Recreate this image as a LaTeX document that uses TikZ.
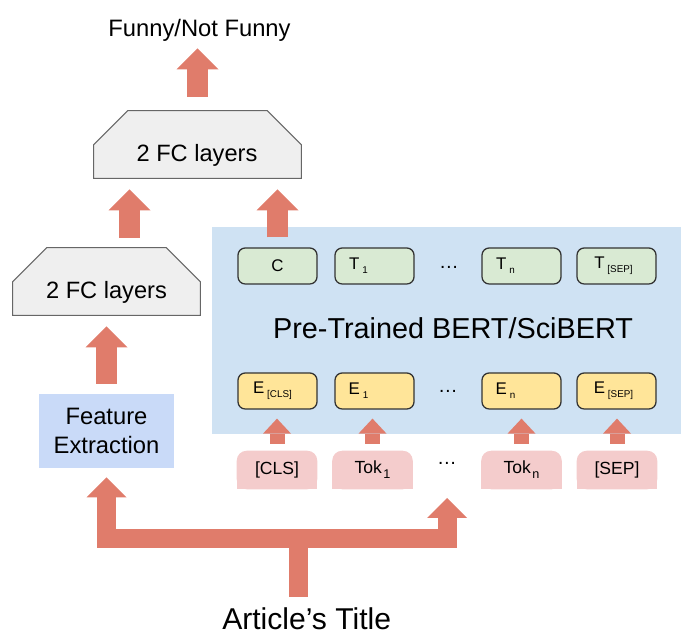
\documentclass[tikz,border=0pt]{standalone}
\usepackage{fontspec}
\setmainfont{Liberation Sans}
\usetikzlibrary{arrows.meta,backgrounds}
\definecolor{arrowred}{HTML}{E07C6B}
\definecolor{bertblue}{HTML}{CFE2F3}
\definecolor{featblue}{HTML}{C9DAF8}
\definecolor{outgreen}{HTML}{D9EAD3}
\definecolor{embyellow}{HTML}{FFE599}
\definecolor{tokpink}{HTML}{F4CCCC}
\definecolor{fcgray}{HTML}{EFEFEF}
\definecolor{fcline}{HTML}{666666}
\definecolor{boxline}{HTML}{333333}
\newcommand{\boxsub}[1]{\kern2pt\raisebox{-3pt}{\fontsize{7}{8}\selectfont #1}}
\newcommand{\toksub}[1]{\kern1pt\raisebox{-3.5pt}{\fontsize{9}{10}\selectfont #1}}
\tikzset{
  fclayer/.style={shape=rectangle, inner sep=0},
  fcshape/.style={draw=fcline, fill=fcgray, line width=0.7pt, line join=miter},
  fctext/.style={anchor=base, inner sep=0, font=\fontsize{16.8}{20}\selectfont},
  outtok/.style={shape=rectangle, draw=boxline, fill=outgreen, line width=0.9pt, rounded corners=0.18cm, inner sep=0, minimum width=1.975cm, minimum height=0.9cm, font=\fontsize{12}{14}\selectfont},
  embtok/.style={outtok, fill=embyellow},
  intok/.style={shape=rectangle, inner sep=0, minimum width=2cm, minimum height=0.95cm, font=\fontsize{12.5}{14}\selectfont},
  featbox/.style={shape=rectangle, fill=featblue, inner sep=0, minimum width=3.375cm, minimum height=1.85cm, align=center, font=\fontsize{16.9}{21}\selectfont},
  bertbg/.style={shape=rectangle, fill=bertblue, inner sep=0},
  ellip/.style={inner sep=0, font=\fontsize{14}{16}\selectfont},
  bigarrow/.style={draw=arrowred, line width=0.525cm, -{Triangle[width=1.05cm, length=0.525cm, line width=0pt]}},
  smallarrow/.style={draw=arrowred, line width=0.375cm, -{Triangle[width=0.7cm, length=0.375cm, line width=0pt]}},
  splitarrow/.style={draw=arrowred, line width=0.475cm, line join=miter, -{Triangle[width=1cm, length=0.5cm, line width=0pt]}}
}
\begin{document}
\begin{tikzpicture}
        % Paths, nodes and wires:
        \useasboundingbox (0,0) rectangle (17.025,15.875);
        \node[bertbg, minimum width=11.725cm, minimum height=5.175cm] (bert) at (11.1625, 7.6125){};
        \node[anchor=base, inner sep=0, font=\fontsize{20.5}{24}\selectfont] (bertText) at (11.325, 7.4){Pre-Trained BERT/SciBERT};
        % classifier side
        \node[anchor=base, inner sep=0, font=\fontsize{16.9}{20}\selectfont] (out) at (4.9875, 14.9575){Funny/Not Funny};
        \node[fclayer, minimum width=5.175cm, minimum height=1.675cm] (fcTop) at (4.9375, 12.2625){};
        \node[fctext] (fcTopText) at (4.925, 11.8325){2 FC layers};
        \node[fclayer, minimum width=4.675cm, minimum height=1.675cm] (fcLeft) at (2.6625, 8.8375){};
        \node[fctext] (fcLeftText) at (2.6625, 8.4175){2 FC layers};
        \node[featbox] (feat) at (2.6625, 5.1){Feature\\Extraction};
        % BERT outputs
        \node[outtok] (tCls) at (6.9375, 9.225){C};
        \node[outtok] (tOne) at (9.3625, 9.225){T\boxsub{1}\kern0.8cm};
        \node[ellip] (tDots) at (11.225, 9.2){…};
        \node[outtok] (tN) at (13.0375, 9.225){T\boxsub{n}\kern0.8cm};
        \node[outtok] (tSep) at (15.4125, 9.225){T\boxsub{[SEP]}\kern0.15cm};
        % BERT embeddings
        \node[embtok] (eCls) at (6.9375, 6.1){E\boxsub{[CLS]}\kern0.25cm};
        \node[embtok] (eOne) at (9.3625, 6.1){E\boxsub{1}\kern0.8cm};
        \node[ellip] (eDots) at (11.2, 6.1){…};
        \node[embtok] (eN) at (13.0375, 6.1){E\boxsub{n}\kern0.8cm};
        \node[embtok] (eSep) at (15.4125, 6.1){E\boxsub{[SEP]}\kern0.15cm};
        % input tokens
        \node[intok] (kCls) at (6.925, 4.125){[CLS]};
        \node[intok] (kOne) at (9.3125, 4.125){Tok\toksub{1}};
        \node[ellip] (kDots) at (11.175, 4.3){…};
        \node[intok] (kN) at (13.0375, 4.125){Tok\toksub{n}};
        \node[intok] (kSep) at (15.425, 4.125){[SEP]};
        \begin{scope}[on background layer]
          \foreach \k in {kCls,kOne,kN,kSep}{
            \fill[tokpink, rounded corners=0.25cm] (\k.south west) rectangle (\k.north east);
            \fill[tokpink] (\k.south west) rectangle (\k.east);
          }
          \foreach \f in {fcTop,fcLeft}
            \filldraw[fcshape] (\f.south west) -- ([yshift=-0.85cm]\f.north west) -- ([xshift=0.85cm]\f.north west) -- ([xshift=-0.85cm]\f.north east) -- ([yshift=-0.85cm]\f.north east) -- (\f.south east) -- cycle;
        \end{scope}
        \node[anchor=base, inner sep=0, font=\fontsize{21.4}{24}\selectfont] (title) at (7.6675, 0.1425){Article’s Title};
        \coordinate (split) at (7.45, 2.4125);
        \coordinate (tokIn) at (11.175, 3.425);
        % arrows
        \draw[bigarrow, shorten <=0.35cm, shorten >=0.16cm] (fcTop.north) -- (fcTop.north |- out.south);
        \draw[bigarrow, shorten <=0.25cm, shorten >=0.275cm] ([xshift=0.575cm]fcLeft.north) -- ([xshift=0.575cm]fcLeft.north |- fcTop.south);
        \draw[bigarrow, shorten <=0.25cm, shorten >=0.275cm] (tCls.north) -- (tCls.north |- fcTop.south);
        \draw[bigarrow, shorten <=0.25cm, shorten >=0.275cm] (feat.north) -- (feat.north |- fcLeft.south);
        \foreach \k/\e in {kCls/eCls,kOne/eOne,kN/eN,kSep/eSep}
          \draw[smallarrow, shorten <=0.175cm, shorten >=0.225cm] (\k.north) -- (\k.north |- \e.south);
        \draw[splitarrow, shorten <=0.26cm, shorten >=0.225cm] (split |- title.north) -- (split) -| (feat.south);
        \draw[splitarrow, shorten <=0.26cm] (split |- title.north) -- (split) -| (tokIn);
      \end{tikzpicture}
\end{document}
